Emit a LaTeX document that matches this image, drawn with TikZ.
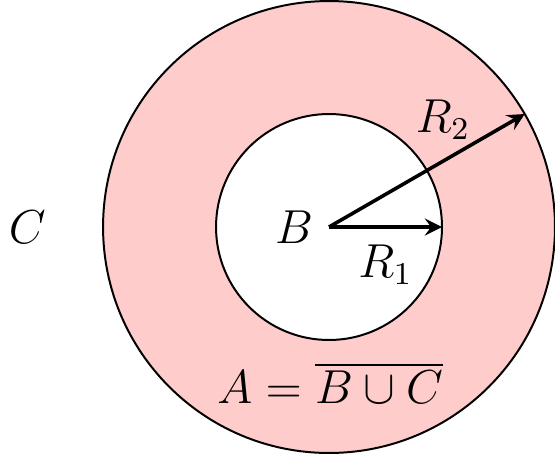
\documentclass[tikz,border=0pt]{standalone}
\usetikzlibrary{arrows}
\begin{document}
\begin{tikzpicture}[
  ring/.style={draw=black, line width=0.5pt},
  radius arrow/.style={-stealth, line width=0.9pt},
  lbl/.style={font=\large}
]
\useasboundingbox (-2.912,-2.009) rectangle (2.0,2.009);
\coordinate (O) at (0,0);
\fill[red!20] (O) circle (2);
\fill[white] (O) circle (1);
\draw[ring] (O) circle (2);
\draw[ring] (O) circle (1);
\coordinate (E1) at (0:1);
\coordinate (E2) at (30:2);
\draw[radius arrow] (O) -- (E1);
\draw[radius arrow] (O) -- (E2);
\node[lbl] (C) at (-2.67,0) {$C$};
\node[lbl] (B) at (-0.31,0) {$B$};
\node[lbl] (R1) at (0.5,-0.33) {$R_1$};
\node[lbl] (R2) at (1.01,0.95) {$R_2$};
\node[lbl] (A) at (0.01,-1.38) {$A=\overline{B\cup C}$};
\end{tikzpicture}
\end{document}
